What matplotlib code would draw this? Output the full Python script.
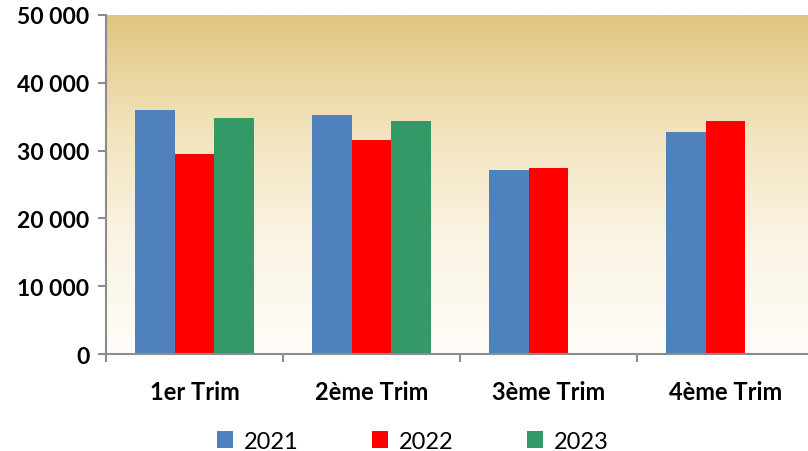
# Quarterly values 2021-2023, grouped bar chart

import matplotlib.pyplot as plt
import numpy as np
from matplotlib.colors import LinearSegmentedColormap
from matplotlib.ticker import FuncFormatter

quarters = ['1er Trim', '2ème Trim', '3ème Trim', '4ème Trim']
years = ['2021', '2022', '2023']
v2021 = [36000, 35200, 27100, 32700]
v2022 = [29500, 31600, 27400, 34400]
v2023 = [34800, 34400, np.nan, np.nan]
colors = ['#4F81BD', '#FF0000', '#339966']

plt.rcParams['font.family'] = ['Lato', 'DejaVu Sans']

fig = plt.figure(figsize=(8.08, 4.52), dpi=100)
ax = fig.add_axes([106 / 808, 1 - 355 / 452, 708 / 808, 339 / 452])

# gradient background, gold at top fading to white
cmap = LinearSegmentedColormap.from_list('bg', ['#FFFDF8', '#FBF4E4', '#F2E3BC', '#DFC580'])
grad = np.linspace(0, 1, 256).reshape(-1, 1)
ax.imshow(grad, extent=[-0.5, 3.5, 0, 50000], aspect='auto', origin='lower',
          cmap=cmap, zorder=0)

x = np.arange(len(quarters))
w = 0.225
for i, (vals, yr) in enumerate(zip([v2021, v2022, v2023], years)):
    ax.bar(x + (i - 1) * w, vals, w, color=colors[i], label=yr, zorder=2)

ax.set_xlim(-0.5, 3.5)
ax.set_ylim(0, 50000)
ax.set_yticks(range(0, 50001, 10000))
ax.yaxis.set_major_formatter(FuncFormatter(lambda v, p: f'{int(v):,}'.replace(',', ' ')))
ax.set_xticks(x)
ax.set_xticklabels(quarters)
ax.set_xticks(np.arange(-0.5, 4, 1), minor=True)

for s in ['top', 'right']:
    ax.spines[s].set_visible(False)
for s in ['left', 'bottom']:
    ax.spines[s].set_color('#8C8C8C')
    ax.spines[s].set_linewidth(1.5)

ax.tick_params(axis='y', length=6, width=1.5, color='#8C8C8C', labelsize=16.5, pad=6)
ax.tick_params(axis='x', which='major', length=0, labelsize=17, pad=19)
ax.tick_params(axis='x', which='minor', length=6, width=1.5, color='#8C8C8C')
for t in ax.get_yticklabels() + ax.get_xticklabels():
    t.set_fontweight('bold')

ax.legend(loc='center', bbox_to_anchor=(0.433, -0.257), ncol=3,
          frameon=False, fontsize=17, handlelength=0.7, handleheight=0.7,
          handletextpad=0.45, columnspacing=3.1)

fig.savefig('out.png', dpi=100)
